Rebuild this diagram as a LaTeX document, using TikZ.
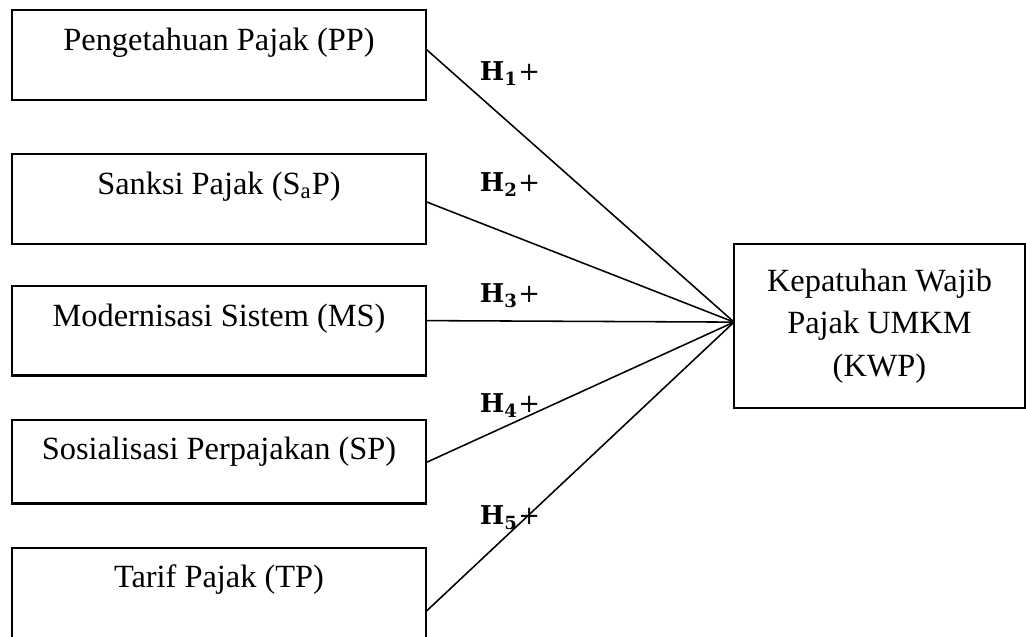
\documentclass[tikz,border=0pt]{standalone}
\usepackage{fontspec}
\setmainfont{Liberation Serif}
\newfontfamily\hypfont{DejaVu Serif}
\usetikzlibrary{positioning}

\begin{document}
\begin{tikzpicture}[x=0.386pt,y=-0.386pt,line width=0.6pt,
        var node/.style={draw,line width=0.8pt,inner sep=0pt,outer sep=0pt,minimum width=159.8pt,
          text height=15.6pt,text depth=19.1pt,font=\fontsize{12.5}{16.4}\selectfont},
        dep node/.style={draw,line width=0.8pt,outer sep=0pt,align=center,minimum width=112.3pt,
          minimum height=63.3pt,font=\fontsize{12.5}{16.4}\selectfont},
        hyp/.style={anchor=base,font=\hypfont\fontsize{10}{12}\selectfont}]

        \useasboundingbox (0,0) rectangle (1026,637);

        \node[var node,anchor=north west] (pp) at (12,10) {Pengetahuan Pajak (PP)};
        \node[var node] (sap) [below=20.8pt of pp] {Sanksi Pajak (S\textsubscript{a}P)};
        \node[var node] (ms) [below=16.2pt of sap] {Modernisasi Sistem (MS)};
        \node[var node,text depth=16.8pt] (sop) [below=17pt of ms] {Sosialisasi Perpajakan (SP)};
        \node[var node,text depth=24pt] (tp) [below=17pt of sop] {Tarif Pajak (TP)};

        \node[dep node] (kwp) at (879.5,326) {Kepatuhan Wajib\\Pajak UMKM\\(KWP)};

        \path ([yshift=1.5pt]kwp.west) edge ([yshift=-15.1pt]pp.north east)
        edge ([yshift=-18.5pt]sap.north east)
        edge ([yshift=-13.5pt]ms.north east)
        edge ([yshift=-16.6pt]sop.north east)
        edge ([yshift=-24.7pt]tp.north east);

        \node[hyp] (h1) at (510,81) {\textbf{H\textsubscript{1}}+};
        \node[hyp] (h2) at (510,192) {\textbf{H\textsubscript{2}}+};
        \node[hyp] (h3) at (510,303) {\textbf{H\textsubscript{3}}+};
        \node[hyp] (h4) at (510,413) {\textbf{H\textsubscript{4}}+};
        \node[hyp] (h5) at (510,525) {\textbf{H\textsubscript{5}}+};
      \end{tikzpicture}
\end{document}
